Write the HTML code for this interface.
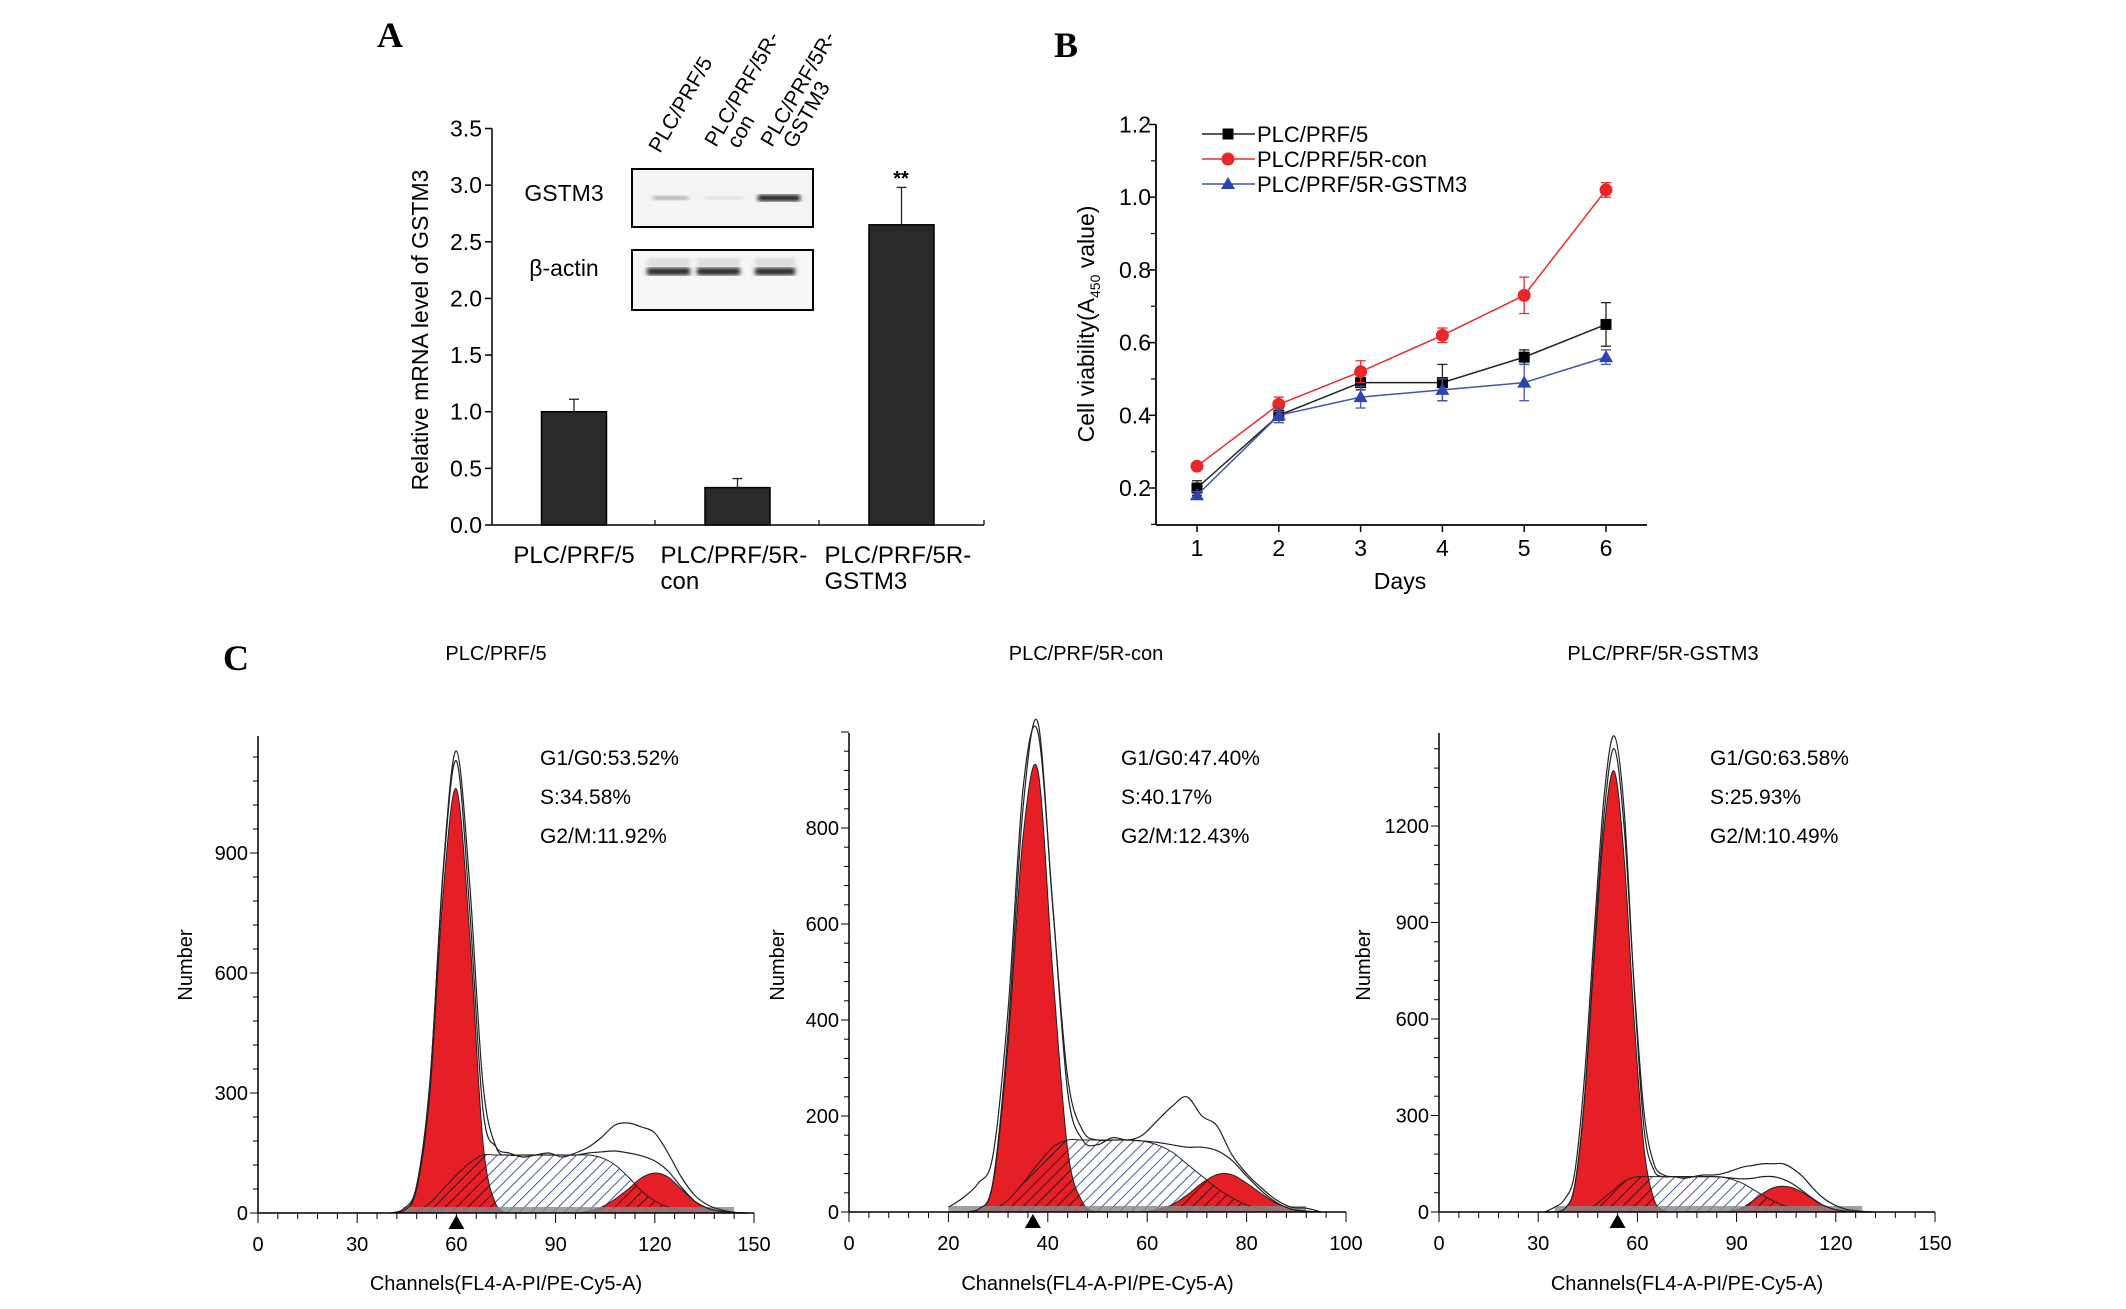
<!DOCTYPE html>
<html><head><meta charset="utf-8"><style>
html,body{margin:0;padding:0;background:#fff;}
svg{display:block;font-family:"Liberation Sans",Arial,sans-serif;}
</style></head><body>
<svg id="fig" width="2126" height="1309" viewBox="0 0 2126 1309" xmlns="http://www.w3.org/2000/svg">
<defs>
<pattern id="hatchBlue" patternUnits="userSpaceOnUse" width="8" height="8" patternTransform="rotate(45)">
<rect width="8" height="8" fill="#fff"/><line x1="0" y1="0" x2="0" y2="8" stroke="#1f2f80" stroke-width="1.6"/></pattern>
<pattern id="hatchBlack" patternUnits="userSpaceOnUse" width="8" height="8" patternTransform="rotate(45)">
<line x1="0" y1="0" x2="0" y2="8" stroke="#111" stroke-width="1.6"/></pattern>
<filter id="blur2"><feGaussianBlur stdDeviation="2"/></filter>
</defs>
<g id="panelA"></g>
<g id="panelB"></g>
<g id="panelC"></g>
</svg>
<script>
// ---------- Panel A data ----------
const aCategories = [["PLC/PRF/5"],["PLC/PRF/5R-","con"],["PLC/PRF/5R-","GSTM3"]];
const aValues = [1.0, 0.33, 2.65];
const aErrors = [0.11, 0.08, 0.33];
const aTicks = [0,0.5,1.0,1.5,2.0,2.5,3.0,3.5];
const aTickLabels = ["0.0","0.5","1.0","1.5","2.0","2.5","3.0","3.5"];
// ---------- Panel B data ----------
const bDays = [1,2,3,4,5,6];
const bBlack = [0.20,0.40,0.49,0.49,0.56,0.65];
const bBlackErr = [0.02,0.02,0.02,0.05,0.02,0.06];
const bRed = [0.26,0.43,0.52,0.62,0.73,1.02];
const bRedErr = [0.01,0.02,0.03,0.02,0.05,0.02];
const bBlue = [0.18,0.40,0.45,0.47,0.49,0.56];
const bBlueErr = [0.01,0.02,0.03,0.03,0.05,0.02];
const bYTicks = [0.2,0.4,0.6,0.8,1.0,1.2];
const bYTickLabels = ["0.2","0.4","0.6","0.8","1.0","1.2"];
const bLegend = ["PLC/PRF/5","PLC/PRF/5R-con","PLC/PRF/5R-GSTM3"];
// ---------- Panel C data ----------
const c1Chan = [40,44,48,52,56,60,64,68,72,76,80,84,88,92,96,100,104,108,112,116,120,124,128,132,136,140,144,148];
const c1G1 = [0,5,60,300,800,1060,700,180,20,0,0,0,0,0,0,0,0,0,0,0,0,0,0,0,0,0,0,0];
const c1S = [0,0,5,25,60,95,125,145,145,145,145,145,145,145,145,145,138,120,90,55,30,15,5,0,0,0,0,0];
const c1G2 = [0,0,0,0,0,0,0,0,0,0,0,0,0,0,0,5,15,35,60,88,100,90,60,30,12,4,0,0];
const c1Raw = [0,10,70,330,850,1130,760,260,165,150,140,145,150,140,150,165,190,220,225,215,200,150,90,45,20,8,2,0];
const c2Chan = [20,23,26,29,32,35,38,41,44,47,50,53,56,59,62,65,68,71,74,77,80,83,86,89,92,95];
const c2G1 = [0,0,5,60,350,780,920,500,130,20,0,0,0,0,0,0,0,0,0,0,0,0,0,0,0,0];
const c2S = [0,0,0,5,25,60,100,135,150,150,150,150,150,148,140,125,100,75,50,30,15,6,2,0,0,0];
const c2G2 = [0,0,0,0,0,0,0,0,0,0,0,0,0,0,5,15,35,60,78,78,60,38,18,6,2,0];
const c2Raw = [10,30,60,120,420,880,1000,640,250,150,140,155,150,160,190,220,240,200,180,120,80,50,25,10,8,0];
const c3Chan = [32,35,38,41,44,47,50,53,56,59,62,65,68,71,74,77,80,83,86,89,92,95,98,101,104,107,110,113,116,119,122,125,128,131];
const c3G1 = [0,0,10,80,350,800,1200,1370,1100,600,200,40,5,0,0,0,0,0,0,0,0,0,0,0,0,0,0,0,0,0,0,0,0,0];
const c3S = [0,0,0,0,5,20,45,70,95,108,110,110,110,110,110,110,110,110,108,100,88,70,52,35,22,12,5,2,0,0,0,0,0,0];
const c3G2 = [0,0,0,0,0,0,0,0,0,0,0,0,0,0,0,0,0,0,0,5,15,35,58,75,80,75,60,40,22,10,4,1,0,0];
const c3Raw = [0,15,40,120,420,880,1300,1480,1250,700,260,130,110,110,105,110,115,115,120,130,140,145,150,150,150,135,110,75,45,25,12,5,2,0];
const cTitles = ["PLC/PRF/5","PLC/PRF/5R-con","PLC/PRF/5R-GSTM3"];
const cStats = [["G1/G0:53.52%","S:34.58%","G2/M:11.92%"],["G1/G0:47.40%","S:40.17%","G2/M:12.43%"],["G1/G0:63.58%","S:25.93%","G2/M:10.49%"]];
const cMarkers = [60,37,54];

const NS="http://www.w3.org/2000/svg";
function el(parent,tag,attrs,text){const e=document.createElementNS(NS,tag);for(const k in attrs)e.setAttribute(k,attrs[k]);if(text!==undefined)e.textContent=text;parent.appendChild(e);return e;}
function smooth(pts,ymax){ // catmull-rom to bezier
 let d='';
 for(let i=0;i<pts.length-1;i++){
  const p0=pts[Math.max(i-1,0)],p1=pts[i],p2=pts[i+1],p3=pts[Math.min(i+2,pts.length-1)];
  const c1x=p1[0]+(p2[0]-p0[0])/6, c1y=Math.min(ymax,p1[1]+(p2[1]-p0[1])/6);
  const c2x=p2[0]-(p3[0]-p1[0])/6, c2y=Math.min(ymax,p2[1]-(p3[1]-p1[1])/6);
  d+=` C${c1x},${c1y} ${c2x},${c2y} ${p2[0]},${p2[1]}`;
 }
 return d;
}

// ================= Panel A =================
(function(){
const g=document.getElementById('panelA');
const x0=492,x1=984,yB=525,yT=128.5;
const ys=v=>yB-(v/3.5)*(yB-yT);
let t=el(g,'text',{x:377,y:47,'font-family':'Liberation Serif,serif','font-weight':'bold','font-size':36},'A');

let ax=el(g,'line',{x1:x0,y1:yT,x2:x0,y2:yB,stroke:'#000','stroke-width':1.5});

let bx=el(g,'line',{x1:x0,y1:yB,x2:x1,y2:yB,stroke:'#000','stroke-width':1.5});

[655,819,x1].forEach(xx=>{el(g,'line',{x1:xx,y1:yB,x2:xx,y2:yB-5,stroke:'#000','stroke-width':1.2});});
aTicks.forEach((v,i)=>{
 el(g,'line',{x1:x0-7,y1:ys(v),x2:x0,y2:ys(v),stroke:'#000','stroke-width':1.5});
 const tl=el(g,'text',{x:x0-10,y:ys(v)+8,'text-anchor':'end','font-size':23},aTickLabels[i]);
 
});
const yt=el(g,'text',{x:0,y:0,'text-anchor':'middle','font-size':23,transform:'translate(428,330) rotate(-90)'},'Relative mRNA level of GSTM3');

const bw=65, centers=[574,737.5,901.5];
aValues.forEach((v,i)=>{
 const cx=centers[i];
 const r=el(g,'rect',{x:cx-bw/2,y:ys(v),width:bw,height:yB-ys(v),fill:'#2a2a2a',stroke:'#000','stroke-width':1.5});
 
 const e=aErrors[i];
 el(g,'line',{x1:cx,y1:ys(v),x2:cx,y2:ys(v+e),stroke:'#222','stroke-width':1.3});
 el(g,'line',{x1:cx-5,y1:ys(v+e),x2:cx+5,y2:ys(v+e),stroke:'#222','stroke-width':1.3});
 const lines=aCategories[i];
 lines.forEach((ln,j)=>{
  const tx=el(g,'text',{x:i===0?cx:cx-77,y:563+j*26,'text-anchor':i===0?'middle':'start','font-size':24},ln);
  
 });
});
const st=el(g,'text',{x:901,y:185,'text-anchor':'middle','font-size':20,'font-weight':'bold'},'**');

const blot=el(g,'g',{});

el(blot,'rect',{x:632,y:169,width:181,height:58,fill:'#f4f4f4',stroke:'#000','stroke-width':2});
el(blot,'rect',{x:632,y:250,width:181,height:60,fill:'#f6f6f6',stroke:'#000','stroke-width':2});
[[653,688,'#999',3.5],[705,743,'#d6d6d6',3],[758,800,'#111',6]].forEach(b=>{
 el(blot,'rect',{x:b[0],y:198-b[3]/2,width:b[1]-b[0],height:b[3],fill:b[2],filter:'url(#blur2)'});});
[[647,690],[697,740],[755,795]].forEach(b=>{
 el(blot,'rect',{x:b[0],y:258,width:b[1]-b[0],height:10,fill:'#ddd',filter:'url(#blur2)'});
 el(blot,'rect',{x:b[0],y:268,width:b[1]-b[0],height:7,fill:'#1a1a1a',filter:'url(#blur2)'});});
let l1=el(g,'text',{x:564,y:201,'text-anchor':'middle','font-size':23},'GSTM3');

let l2=el(g,'text',{x:564,y:276,'text-anchor':'middle','font-size':23},'β-actin');

[[660,154,['PLC/PRF/5']],[716,148,['PLC/PRF/5R-','con']],[772,148,['PLC/PRF/5R-','GSTM3']]].forEach(L=>{
 const tg=el(g,'text',{x:0,y:0,'font-size':21,transform:`translate(${L[0]},${L[1]}) rotate(-60)`});
 
 L[2].forEach((s,j)=>{el(tg,'tspan',{x:j?10:0,dy:j?20:0},s);});
});
})();

// ================= Panel B =================
(function(){
const g=document.getElementById('panelB');
const x0=1156,x1=1647,yB=525;
const ys=v=>488-(v-0.2)/0.2*72.7;
const xs=d=>1197+(d-1)*81.8;
let t=el(g,'text',{x:1054,y:57,'font-family':'Liberation Serif,serif','font-weight':'bold','font-size':36},'B');

let ya=el(g,'line',{x1:x0,y1:ys(1.2),x2:x0,y2:yB,stroke:'#000','stroke-width':1.8});

let xa=el(g,'line',{x1:x0,y1:yB,x2:x1,y2:yB,stroke:'#000','stroke-width':1.8});

bYTicks.forEach((v,i)=>{
 el(g,'line',{x1:x0-7,y1:ys(v),x2:x0,y2:ys(v),stroke:'#000','stroke-width':1.5});
 el(g,'line',{x1:x0-5,y1:ys(v-0.1),x2:x0,y2:ys(v-0.1),stroke:'#000','stroke-width':1.2});
 const tl=el(g,'text',{x:x0-5,y:ys(v)+8,'text-anchor':'end','font-size':23},bYTickLabels[i]);
 
});
bDays.forEach(d=>{
 el(g,'line',{x1:xs(d),y1:yB,x2:xs(d),y2:yB+7,stroke:'#000','stroke-width':1.5});
 const tl=el(g,'text',{x:xs(d),y:556,'text-anchor':'middle','font-size':23},String(d));
 
});
const xt=el(g,'text',{x:1400,y:589,'text-anchor':'middle','font-size':23},'Days');

const yt=el(g,'text',{x:0,y:0,'text-anchor':'middle','font-size':23,transform:'translate(1094,324) rotate(-90)'});

el(yt,'tspan',{},'Cell viability(A');el(yt,'tspan',{'font-size':14,dy:6},'450');el(yt,'tspan',{dy:-6},' value)');
const series=[[bBlack,bBlackErr,'#222','#000','sq'],[bRed,bRedErr,'#e23030','#e82828','ci'],[bBlue,bBlueErr,'#4455aa','#2a45b0','tr']];
function marker(p,x,y,kind,col){
 if(kind==='sq') return el(p,'rect',{x:x-5.5,y:y-5.5,width:11,height:11,fill:col});
 if(kind==='ci') return el(p,'circle',{cx:x,cy:y,r:6.5,fill:col});
 return el(p,'polygon',{points:`${x},${y-7} ${x+7},${y+5} ${x-7},${y+5}`,fill:col});
}
const names=['black','red','blue'];
series.forEach((s,si)=>{
 const sg=el(g,'g',{});
 
 const pts=s[0].map((v,i)=>xs(bDays[i])+','+ys(v)).join(' ');
 el(sg,'polyline',{points:pts,fill:'none',stroke:s[2],'stroke-width':1.5});
 s[0].forEach((v,i)=>{
  const x=xs(bDays[i]),e=s[1][i];
  el(sg,'line',{x1:x,y1:ys(v-e),x2:x,y2:ys(v+e),stroke:s[2],'stroke-width':1.3});
  el(sg,'line',{x1:x-5,y1:ys(v+e),x2:x+5,y2:ys(v+e),stroke:s[2],'stroke-width':1.3});
  el(sg,'line',{x1:x-5,y1:ys(v-e),x2:x+5,y2:ys(v-e),stroke:s[2],'stroke-width':1.3});
  const m=marker(sg,x,ys(v),s[4],s[3]);
  
  
 });
});
bLegend.forEach((name,i)=>{
 const y=134+i*25;
 const lg=el(g,'g',{});
 
 el(lg,'line',{x1:1202,y1:y,x2:1255,y2:y,stroke:series[i][2],'stroke-width':1.5});
 marker(lg,1228,y,series[i][4],series[i][3]);
 el(lg,'text',{x:1257,y:y+8,'font-size':22},name);
});
})();

// ================= Panel C =================
(function(){
const g=document.getElementById('panelC');
let t=el(g,'text',{x:223,y:670,'font-family':'Liberation Serif,serif','font-weight':'bold','font-size':36},'C');

const cfg=[
 {chan:c1Chan,g1:c1G1,s:c1S,g2:c1G2,raw:c1Raw,x0:258,x1:754,xmax:150,xMaj:30,xMin:6,y0:1213,yTop:736,ppu:120/300,yMaj:300,yMin:60,yMaxTick:900,title:496,stats:540,num:185},
 {chan:c2Chan,g1:c2G1,s:c2S,g2:c2G2,raw:c2Raw,x0:849,x1:1346,xmax:100,xMaj:20,xMin:4,y0:1212,yTop:733,ppu:96/200,yMaj:200,yMin:40,yMaxTick:800,title:1086,stats:1121,num:777},
 {chan:c3Chan,g1:c3G1,s:c3S,g2:c3G2,raw:c3Raw,x0:1439,x1:1935,xmax:150,xMaj:30,xMin:6,y0:1212,yTop:733,ppu:96.5/300,yMaj:300,yMin:60,yMaxTick:1200,title:1663,stats:1710,num:1363}
];
cfg.forEach((c,pi)=>{
 const pg=el(g,'g',{});
 
 const xs=v=>c.x0+v/c.xmax*(c.x1-c.x0);
 const ys=v=>c.y0-v*c.ppu;
 const P=vals=>c.chan.map((ch,i)=>[xs(ch),ys(vals[i])]);
 function area(vals){const p=P(vals);return 'M'+p[0][0]+','+c.y0+' L'+p[0][0]+','+p[0][1]+smooth(p,c.y0)+' L'+p[p.length-1][0]+','+c.y0+' Z';}
 function line(vals){const p=P(vals);return 'M'+p[0][0]+','+p[0][1]+smooth(p,c.y0);}
 const env=c.chan.map((_,i)=>c.g1[i]+c.s[i]+c.g2[i]);
 const sa=el(pg,'path',{d:area(c.s),fill:'url(#hatchBlue)',stroke:'#222','stroke-width':1});
 
 const g1a=el(pg,'path',{d:area(c.g1),fill:'#e61e25',stroke:'#222','stroke-width':1});
 
 const g2a=el(pg,'path',{d:area(c.g2),fill:'#e61e25',stroke:'#222','stroke-width':1});
 
 const cid='clipR'+pi;
 const cp=el(pg,'clipPath',{id:cid});
 el(cp,'path',{d:area(c.g1)});el(cp,'path',{d:area(c.g2)});
 el(pg,'path',{d:area(c.s),fill:'url(#hatchBlack)','clip-path':'url(#'+cid+')',stroke:'#222','stroke-width':1});
 const i0=c.raw.findIndex(v=>v>0), i1=c.raw.length-1-[...c.raw].reverse().findIndex(v=>v>0);
 el(pg,'rect',{x:xs(c.chan[Math.max(i0,0)]),y:c.y0-6,width:xs(c.chan[i1])-xs(c.chan[Math.max(i0,0)]),height:6,fill:'#888',opacity:0.8});
 const el1=el(pg,'path',{d:line(env),fill:'none',stroke:'#222','stroke-width':1.2});
 
 const el2=el(pg,'path',{d:line(c.raw),fill:'none',stroke:'#222','stroke-width':1.2});
 
 const ya=el(pg,'line',{x1:c.x0,y1:c.yTop,x2:c.x0,y2:c.y0,stroke:'#000','stroke-width':1.5});
 
 const xa=el(pg,'line',{x1:c.x0,y1:c.y0,x2:c.x1,y2:c.y0,stroke:'#000','stroke-width':1.5});
 
 for(let v=0; ys(v)>=c.yTop-1; v+=c.yMin){
  const maj=v%c.yMaj===0;
  el(pg,'line',{x1:c.x0-(maj?8:5),y1:ys(v),x2:c.x0,y2:ys(v),stroke:'#000','stroke-width':1});
  if(maj&&v<=c.yMaxTick){const tl=el(pg,'text',{x:c.x0-10,y:ys(v)+7,'text-anchor':'end','font-size':20},String(v));
   }
 }
 for(let v=0; v<=c.xmax; v+=c.xMin){
  const maj=v%c.xMaj===0;
  el(pg,'line',{x1:xs(v),y1:c.y0,x2:xs(v),y2:c.y0+(maj?10:6),stroke:'#000','stroke-width':1});
  if(maj){const tl=el(pg,'text',{x:xs(v),y:c.y0+38,'text-anchor':'middle','font-size':20},String(v));
   }
 }
 const mk=xs(cMarkers[pi]);
 const tri=el(pg,'polygon',{points:`${mk},${c.y0+2} ${mk+8},${c.y0+16} ${mk-8},${c.y0+16}`,fill:'#000'});
 
 const tt=el(pg,'text',{x:c.title,y:660,'text-anchor':'middle','font-size':20},cTitles[pi]);
 
 cStats[pi].forEach((s,j)=>{const st=el(pg,'text',{x:c.stats,y:765+j*39,'font-size':21},s);
  });
 const xt=el(pg,'text',{x:(c.x0+c.x1)/2,y:1290,'text-anchor':'middle','font-size':20},'Channels(FL4-A-PI/PE-Cy5-A)');
 
 const nt=el(pg,'text',{x:0,y:0,'text-anchor':'middle','font-size':20,transform:`translate(${c.num+7},965) rotate(-90)`},'Number');
 
});
})();
</script>
</body></html>
